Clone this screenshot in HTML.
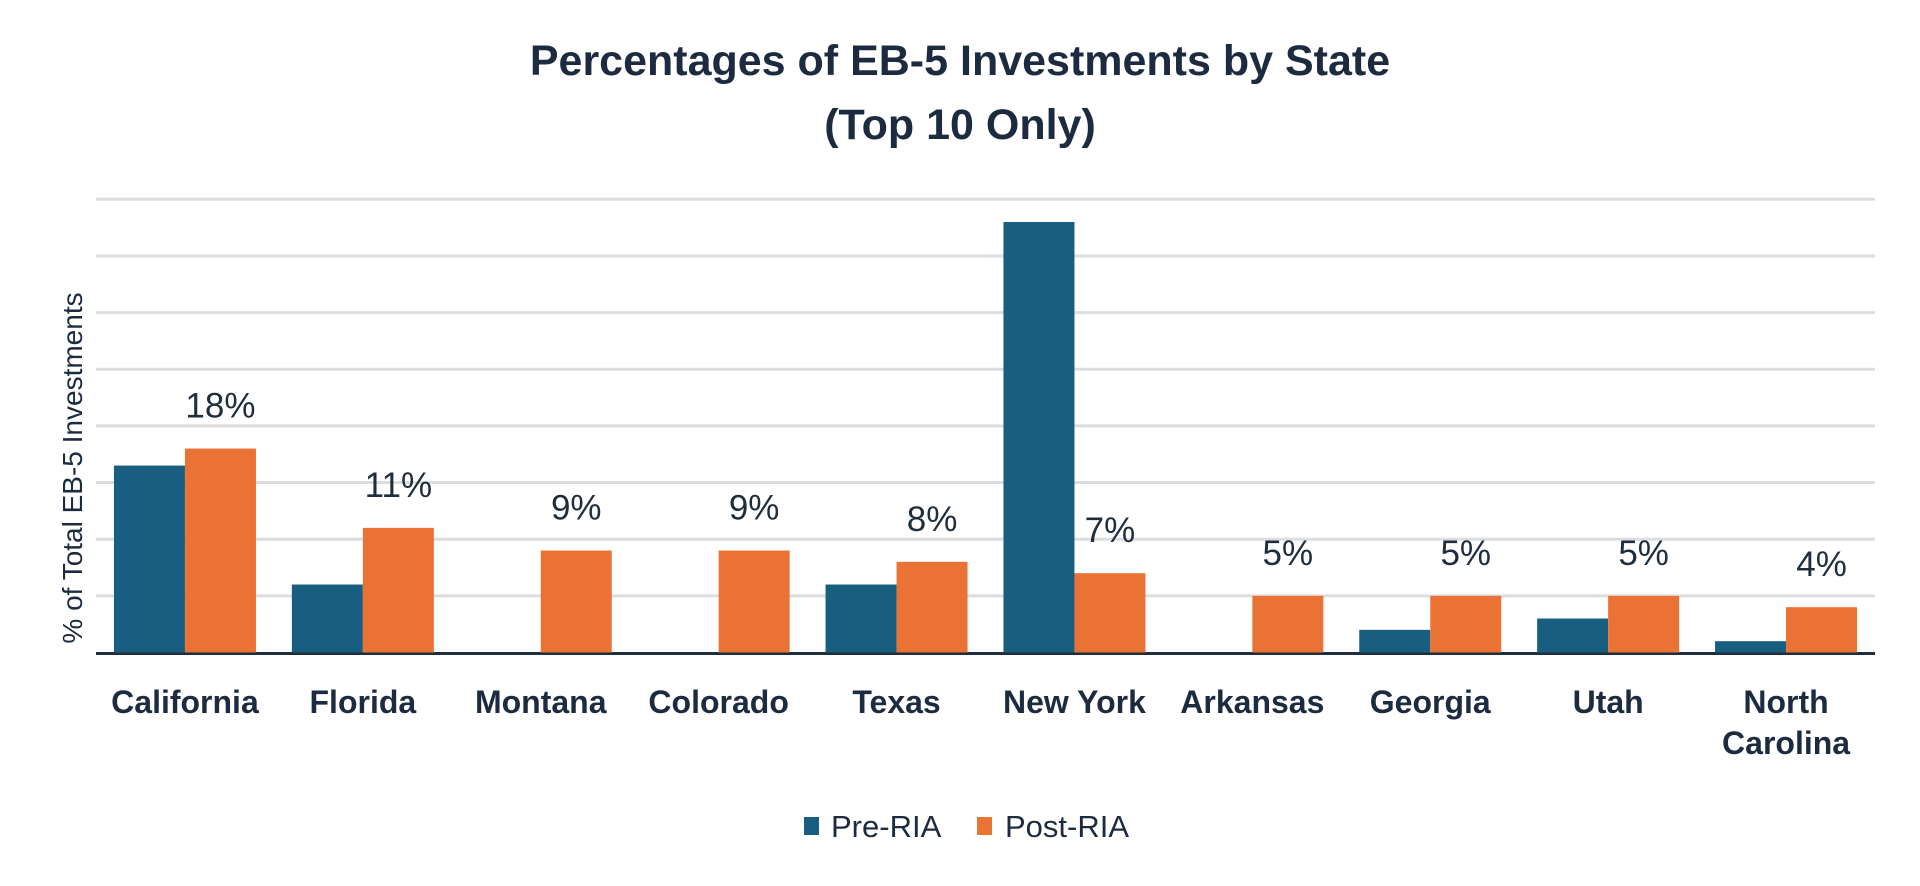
<!DOCTYPE html>
<html><head><meta charset="utf-8"><style>
html,body{margin:0;padding:0;background:#fff;}
svg{display:block;font-family:"Liberation Sans",sans-serif;}
</style></head><body>
<svg id="chart" width="1920" height="886" viewBox="0 0 1920 886">
<text x="960" y="75" text-anchor="middle" font-size="43" font-weight="bold" fill="#1c2b3f">Percentages of EB-5 Investments by State</text>
<text x="960" y="139" text-anchor="middle" font-size="43" font-weight="bold" fill="#1c2b3f">(Top 10 Only)</text>
<g id="grid"></g>
<g id="bars"></g>
<g id="labels"></g>
<g id="cats"></g>
<text transform="translate(82,468) rotate(-90)" text-anchor="middle" font-size="28" fill="#1c2b3f">% of Total EB-5 Investments</text>
<g>
<rect x="804" y="817" width="15" height="18" fill="#175e80"/>
<text x="831" y="837" font-size="31" fill="#1c2b3f">Pre-RIA</text>
<rect x="977" y="817" width="15" height="18" fill="#e97234"/>
<text x="1005" y="837" font-size="31" fill="#1c2b3f">Post-RIA</text>
</g>
</svg>
<script>
const categories = ["California","Florida","Montana","Colorado","Texas","New York","Arkansas","Georgia","Utah","North Carolina"];
const preRIA = [16.5,6,0,0,6,38,0,2,3,1];
const postRIA = [18,11,9,9,8,7,5,5,5,4];
const postLabels = ["18%","11%","9%","9%","8%","7%","5%","5%","5%","4%"];
const gridTicks = [5,10,15,20,25,30,35,40];

const NS="http://www.w3.org/2000/svg";
const x0=96,x1=1875,y0=652.5,pxPer=11.33;
const band=(x1-x0)/categories.length;
const bw=71;
function y(v){return y0-v*pxPer;}
function cx(i){return x0+band*(i+0.5);}
function mk(tag,attrs,parent){const e=document.createElementNS(NS,tag);for(const k in attrs)e.setAttribute(k,attrs[k]);document.getElementById(parent).appendChild(e);return e;}

gridTicks.forEach(t=>{
  const l=mk('line',{x1:x0,x2:x1,y1:y(t),y2:y(t),stroke:'#dcdde1','stroke-width':3},'grid');
  
  
});
const base=mk('line',{x1:x0,x2:x1,y1:y0+1,y2:y0+1,stroke:'#1f2d3d','stroke-width':3},'grid');



categories.forEach((c,i)=>{
  const c0=cx(i);
  if(preRIA[i]>0){
    const r=mk('rect',{x:c0-bw,y:y(preRIA[i]),width:bw,height:y0-y(preRIA[i]),fill:'#175e80'},'bars');
    
    
  }
  const r2=mk('rect',{x:c0,y:y(postRIA[i]),width:bw,height:y0-y(postRIA[i]),fill:'#e97234'},'bars');
  
  
  const t=mk('text',{x:c0+bw/2,y:y(postRIA[i])-31,'text-anchor':'middle','font-size':35,fill:'#1f2d3d'},'labels');
  t.textContent=postLabels[i];
  
  
  const words=c==="North Carolina"?["North","Carolina"]:[c];
  words.forEach((w,j)=>{
    const ct=mk('text',{x:c0,y:713+j*41,'text-anchor':'middle','font-size':32,'font-weight':'bold',fill:'#1c2b3f'},'cats');
    ct.textContent=w;
    
    
  });
});
</script>
</body></html>
